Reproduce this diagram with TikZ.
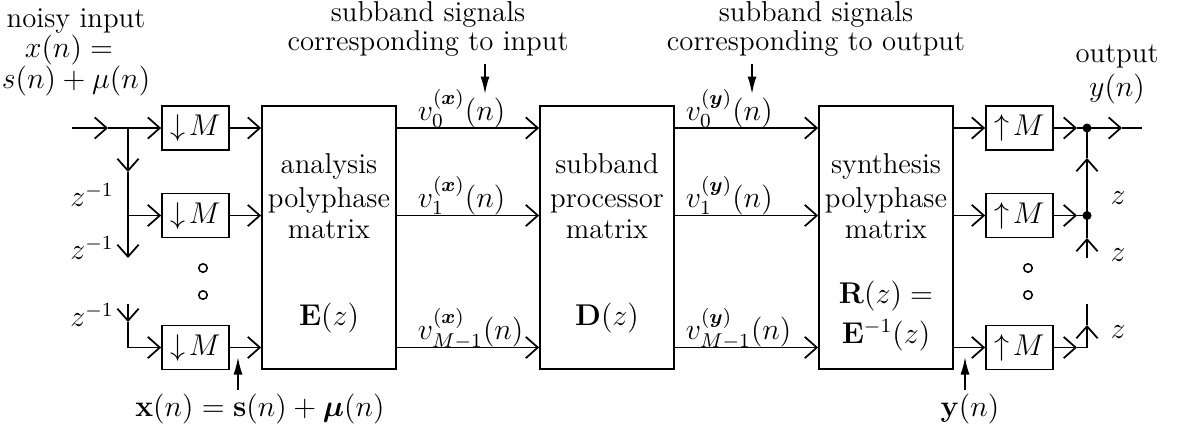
\documentclass[tikz,border=0pt]{standalone}
\usepackage{amsmath,bm}
\usetikzlibrary{arrows.meta}
\begin{document}
\begin{tikzpicture}[x=0.4pt,y=-0.4pt,
  font=\fontsize{11.5pt}{13.8pt}\selectfont, line width=0.7pt,
  barb/.style={-{Straight Barb[length=4.8pt,width=8.5pt]}},
  fillarr/.style={-{Latex[length=7pt,width=3.6pt]}},
  smallbox/.style={draw, minimum width=26.8pt, minimum height=17.6pt, inner sep=0pt},
  bigbox/.style={draw, minimum width=53.6pt, minimum height=105.2pt, inner sep=0pt},
  lbl/.style={inner sep=0pt, anchor=base},
  lblw/.style={inner sep=0pt, anchor=base west},
  dotc/.style={circle, draw, line width=0.6pt, minimum size=3.4pt, inner sep=0pt},
  jdot/.style={circle, fill, minimum size=3.6pt, inner sep=0pt}]
\useasboundingbox (0,0) rectangle (1178,428);

% boxes
\node[smallbox] (d1) at (195.5,128) {$\downarrow\!M$};
\node[smallbox] (d2) at (195.5,215.5) {$\downarrow\!M$};
\node[smallbox] (d3) at (195.5,347.5) {$\downarrow\!M$};
\node[bigbox] (E) at (329,237.5) {};
\node[bigbox] (D) at (607,237.5) {};
\node[bigbox] (R) at (886,237.5) {};
\node[smallbox] (u1) at (1019.5,128) {$\uparrow\!M$};
\node[smallbox] (u2) at (1019.5,215.5) {$\uparrow\!M$};
\node[smallbox] (u3) at (1019.5,347.5) {$\uparrow\!M$};

% box texts
\node[lbl] (Et1) at (329,173) {analysis};
\node[lbl] (Et2) at (329,207) {polyphase};
\node[lbl] (Et3) at (329,238) {matrix};
\node[lbl] (Et4) at (329,325) {$\mathbf{E}(z)$};
\node[lbl] (Dt1) at (607,173) {subband};
\node[lbl] (Dt2) at (607,207) {processor};
\node[lbl] (Dt3) at (607,238) {matrix};
\node[lbl] (Dt4) at (607,325) {$\mathbf{D}(z)$};
\node[lbl] (Rt1) at (886,173) {synthesis};
\node[lbl] (Rt2) at (886,207) {polyphase};
\node[lbl] (Rt3) at (886,238) {matrix};
\node[lbl] (Rt4) at (886,303) {$\mathbf{R}(z) =$};
\node[lbl] (Rt5) at (886,343) {$\mathbf{E}^{-1}(z)$};

% input side
\coordinate (in) at (72,128);
\coordinate (ia) at (108,128);
\coordinate (j1) at (128,128);
\coordinate (va) at (128,172);
\coordinate (j2) at (128,215.5);
\coordinate (vb) at (128,258);
\coordinate (vc) at (128,304);
\coordinate (vd) at (128,322);
\coordinate (j3) at (128,347.5);
\draw[barb] (in) -- (ia);
\draw (ia) -- (j1);
\draw[barb] (j1) -- (d1.west);
\draw[barb] (j1) -- (va);
\draw (va) -- (j2);
\draw[barb] (j2) -- (d2.west);
\draw[barb] (j2) -- (vb);
\draw[barb] (vc) -- (vd);
\draw[barb] (vd) -- (j3) -- (d3.west);

\node (zl1) at (92,195) {$z^{-1}$};
\node (zl2) at (92,248) {$z^{-1}$};
\node (zl3) at (92,315) {$z^{-1}$};
\node[dotc] (c1) at (203,268) {};
\node[dotc] (c2) at (203,295) {};

% down-samplers to E
\draw[barb] (d1.east) -- (d1.east -| E.west);
\draw[barb] (d2.east) -- (d2.east -| E.west);
\draw[barb] (d3.east) -- (d3.east -| E.west);

% E to D
\draw[barb] (E.east |- d1) -- (D.west |- d1);
\draw[barb] (E.east |- d2) -- (D.west |- d2);
\draw[barb] (E.east |- d3) -- (D.west |- d3);
% D to R
\draw[barb] (D.east |- d1) -- (R.west |- d1);
\draw[barb] (D.east |- d2) -- (R.west |- d2);
\draw[barb] (D.east |- d3) -- (R.west |- d3);
% R to up-samplers
\draw[barb] (R.east |- u1) -- (u1.west);
\draw[barb] (R.east |- u2) -- (u2.west);
\draw[barb] (R.east |- u3) -- (u3.west);

% subband labels
\node[lblw] (vx0) at (417,120) {$v_0^{(\bm{x})}(n)$};
\node[lblw] (vx1) at (417,207) {$v_1^{(\bm{x})}(n)$};
\node[lblw] (vx2) at (417,339) {$v_{M-1}^{(\bm{x})}(n)$};
\node[lblw] (vy0) at (685,120) {$v_0^{(\bm{y})}(n)$};
\node[lblw] (vy1) at (685,207) {$v_1^{(\bm{y})}(n)$};
\node[lblw] (vy2) at (685,339) {$v_{M-1}^{(\bm{y})}(n)$};

% output side
\coordinate (k1) at (1087,128);
\coordinate (k2) at (1087,215.5);
\coordinate (k3) at (1087,347.5);
\coordinate (ua1) at (1077,128);
\coordinate (ua2) at (1077,215.5);
\coordinate (ua3) at (1077,347.5);
\coordinate (oa) at (1122,128);
\coordinate (out) at (1142,128);
\coordinate (kv1) at (1087,158);
\coordinate (kb) at (1087,258);
\coordinate (kv2) at (1087,238);
\coordinate (kv3) at (1087,325);
\coordinate (kt) at (1087,304);
\draw[barb] (u1.east) -- (ua1);
\draw (ua1) -- (k1);
\draw[barb] (k1) -- (oa);
\draw (oa) -- (out);
\draw[barb] (u2.east) -- (ua2);
\draw (ua2) -- (k2);
\draw[barb] (k2) -- (kv1);
\draw (kv1) -- (k1);
\draw[barb] (kb) -- (kv2);
\draw (kv2) -- (k2);
\draw[barb] (u3.east) -- (ua3);
\draw (ua3) -- (k3);
\draw[barb] (k3) -- (kv3);
\draw (kv3) -- (kt);
\node[jdot] (n1) at (k1) {};
\node[jdot] (n2) at (k2) {};
\node (zr1) at (1118,198) {$z$};
\node (zr2) at (1118,255) {$z$};
\node (zr3) at (1118,332) {$z$};
\node[dotc] (c3) at (1028,268) {};
\node[dotc] (c4) at (1028,295) {};

% annotations
\node[lbl] (ni1) at (76,27) {noisy input};
\node[lbl] (ni2) at (69,57) {$x(n) =$};
\node[lbl] (ni3) at (76,88) {$s(n) + \mu(n)$};
\node[lbl] (ot1) at (1117,62) {output};
\node[lbl] (ot2) at (1117,96) {$y(n)$};

\node[lbl] (si1) at (428,21) {subband signals};
\node[lbl] (si2) at (428,50) {corresponding to input};
\node[lbl] (so1) at (816,21) {subband signals};
\node[lbl] (so2) at (816,50) {corresponding to output};
\coordinate (tia) at (485,64);
\coordinate (tib) at (485,94);
\coordinate (toa) at (752,64);
\coordinate (tob) at (752,94);
\draw[fillarr] (tia) -- (tib);
\draw[fillarr] (toa) -- (tob);

\node[lbl] (bx) at (260,416) {$\mathbf{x}(n) = \mathbf{s}(n) + \bm{\mu}(n)$};
\node[lbl] (by) at (970,416) {$\mathbf{y}(n)$};
\coordinate (bxa) at (238,390);
\coordinate (bxb) at (238,357);
\coordinate (bya) at (965,390);
\coordinate (byb) at (965,357);
\draw[fillarr] (bxa) -- (bxb);
\draw[fillarr] (bya) -- (byb);
\end{tikzpicture}
\end{document}
